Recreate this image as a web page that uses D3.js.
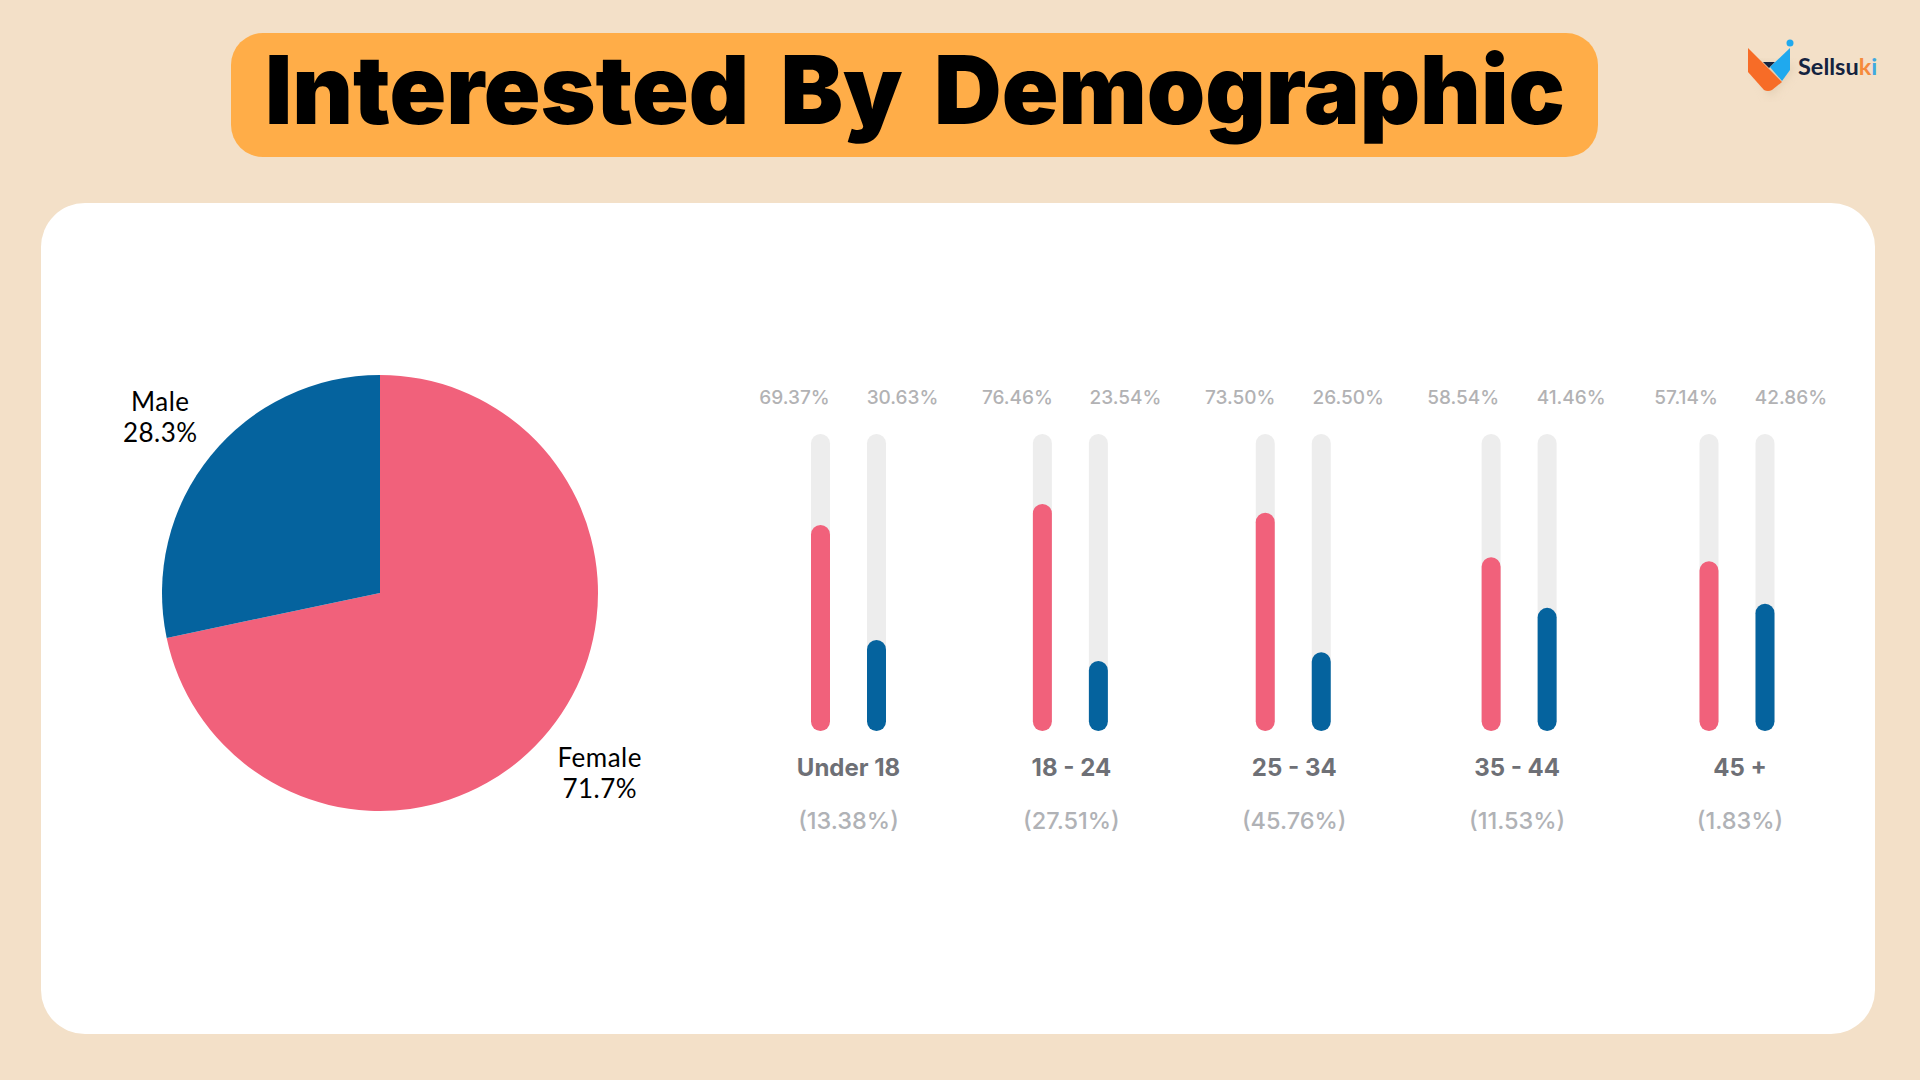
<!DOCTYPE html>
<html>
<head>
<meta charset="utf-8">
<title>Interested By Demographic</title>
<script src="https://cdn.jsdelivr.net/npm/d3@7"></script>
<style>
  html, body { margin: 0; padding: 0; background: #f3e0c8; }
  svg { display: block; }
</style>
</head>
<body>
<script>
// Gender split
var genders = ['Female', 'Male'];
var genderShare = [71.7, 28.3];

// Age groups
var ageGroups = ['Under 18', '18 - 24', '25 - 34', '35 - 44', '45 +'];
var ageShare = ['13.38', '27.51', '45.76', '11.53', '1.83'];
var femaleValues = [69.37, 76.46, 73.50, 58.54, 57.14];
var maleValues = [30.63, 23.54, 26.50, 41.46, 42.86];

// the bar pairs in the picture are not quite centred under their labels
var barNudge = [0, -1, -1, 2, -3];
var maleLabelNudge = [0, 0, 0, 0, -3];

var w = 1920;
var h = 1080;
var pink = '#f1617b';
var blue = '#05639e';
var barFont = 'Inter, sans-serif';

var svg = d3.select('body').append('svg').attr('width', w).attr('height', h);

svg.append('rect').attr('width', w).attr('height', h).attr('fill', '#f3e0c8');

// Title banner
svg.append('rect')
  .attr('x', 231).attr('y', 33)
  .attr('width', 1367).attr('height', 124)
  .attr('rx', 32)
  .attr('fill', '#ffad48');

svg.append('text')
  .text('Interested By Demographic')
  .attr('x', 265).attr('y', 124)
  .attr('textLength', 1300)
  .attr('lengthAdjust', 'spacingAndGlyphs')
  .attr('word-spacing', '13px')
  .attr('font-family', 'Inter, sans-serif')
  .attr('font-weight', 900)
  .attr('font-size', '95px')
  .attr('fill', '#000');

// Card
svg.append('rect')
  .attr('x', 41).attr('y', 203)
  .attr('width', 1834).attr('height', 831)
  .attr('rx', 44)
  .attr('fill', '#fff');

// Logo
var logo = svg.append('g');
var defs = svg.append('defs');
defs.append('filter').attr('id', 'soft').append('feGaussianBlur').attr('stdDeviation', 5);
logo.append('path').attr('d', 'M1752 62L1770 98L1796 66Z').attr('fill', '#d8c4a8').attr('opacity', 0.6).attr('filter', 'url(#soft)');
logo.append('path').attr('d', 'M1763 62L1775 62L1769 68Z').attr('fill', '#14233f');
logo.append('path').attr('d', 'M1790 48L1790 70L1782 81L1770 67Z').attr('fill', '#1fa9ee');
logo.append('path').attr('d', 'M1748 48L1782 82L1772 90Q1768 92 1764 90L1748 72Z').attr('fill', '#f76c27');
logo.append('circle').attr('cx', 1790).attr('cy', 43).attr('r', 3.5).attr('fill', '#1fa9ee');
var logoText = logo.append('text')
  .attr('x', 1798).attr('y', 75)
  .attr('font-family', 'Lato, sans-serif')
  .attr('font-weight', 700)
  .attr('font-size', '23.5px')
  .attr('fill', '#14233f');
logoText.append('tspan').text('Sellsu');
logoText.append('tspan').text('k').attr('fill', '#f58a3c');
logoText.append('tspan').text('i').attr('fill', '#3fa9e0');

// Pie
var radius = 218;
var pie = d3.pie().sort(null).value(function(d) { return d.value; });
var arc = d3.arc().innerRadius(0).outerRadius(radius);
var labelArc = d3.arc().innerRadius(283).outerRadius(283);
var pieColor = d3.scaleOrdinal().domain(genders).range([pink, blue]);

var pieData = genders.map(function(g, i) {
  return { name: g, value: genderShare[i] };
});

var pieG = svg.append('g').attr('transform', 'translate(380,593)');

pieG.selectAll('path').data(pie(pieData)).enter().append('path')
  .attr('d', arc)
  .attr('fill', function(d) { return pieColor(d.data.name); });

var pieLabels = pieG.selectAll('g').data(pie(pieData)).enter().append('g')
  .attr('transform', function(d) {
    return 'translate(' + labelArc.centroid(d) + ')';
  })
  .attr('text-anchor', 'middle')
  .attr('font-family', 'Lato, sans-serif')
  .attr('font-size', '26px')
  .attr('letter-spacing', '0.5px')
  .attr('fill', '#000');

pieLabels.append('text')
  .text(function(d) { return d.data.name; })
  .attr('y', -4);
pieLabels.append('text')
  .text(function(d) { return d.data.value + '%'; })
  .attr('y', 27);

// Bars
var x = d3.scalePoint().domain(ageGroups).range([848.5, 1740]);
var y = d3.scaleLinear().domain([0, 100]).range([731, 434]);
var barWidth = 19;
var barGap = 56;
var labelGap = 108;

var groups = svg.selectAll('g.age').data(ageGroups).enter().append('g')
  .attr('class', 'age')
  .attr('transform', function(d) { return 'translate(' + x(d) + ',0)'; });

function drawBars(values, color, side, labelNudge) {
  var cx = function(d, i) { return barNudge[i] + side * barGap / 2 - barWidth / 2; };

  groups.append('rect')
    .attr('x', cx)
    .attr('y', y(100))
    .attr('width', barWidth)
    .attr('height', y(0) - y(100))
    .attr('rx', barWidth / 2)
    .attr('fill', '#ededed');

  groups.append('rect')
    .attr('x', cx)
    .attr('y', function(d, i) { return y(values[i]); })
    .attr('width', barWidth)
    .attr('height', function(d, i) { return y(0) - y(values[i]); })
    .attr('rx', barWidth / 2)
    .attr('fill', color);

  groups.append('text')
    .text(function(d, i) { return values[i].toFixed(2) + '%'; })
    .attr('x', function(d, i) { return side * labelGap / 2 + labelNudge[i]; })
    .attr('y', 404)
    .attr('text-anchor', 'middle')
    .attr('font-family', barFont)
    .attr('font-weight', 500)
    .attr('font-size', '19px')
    .attr('fill', '#b2b2b4');
}

drawBars(femaleValues, pink, -1, [0, 0, 0, 0, 0]);
drawBars(maleValues, blue, 1, maleLabelNudge);

groups.append('text')
  .text(function(d) { return d; })
  .attr('y', 776)
  .attr('text-anchor', 'middle')
  .attr('font-family', barFont)
  .attr('font-weight', 700)
  .attr('font-size', '24px')
  .attr('fill', '#6e7076');

groups.append('text')
  .text(function(d, i) { return '(' + ageShare[i] + '%)'; })
  .attr('y', 829)
  .attr('text-anchor', 'middle')
  .attr('font-family', barFont)
  .attr('font-weight', 500)
  .attr('font-size', '23.5px')
  .attr('fill', '#b0b2b6');
</script>
</body>
</html>
